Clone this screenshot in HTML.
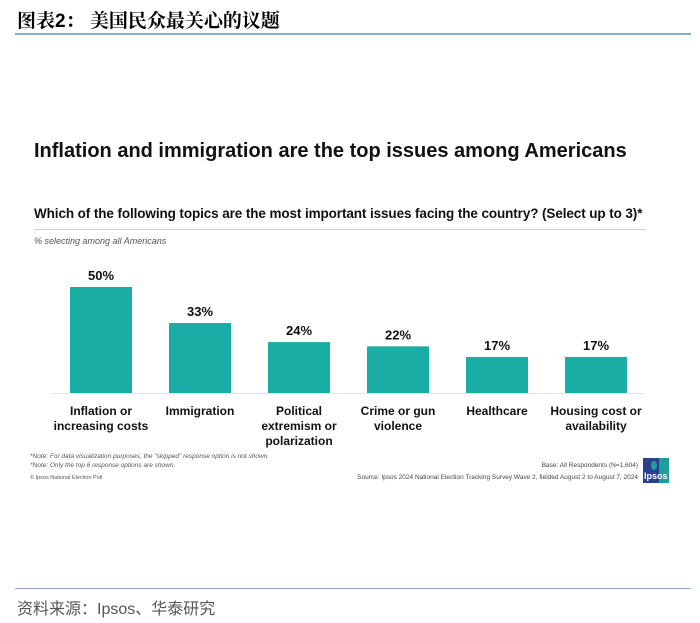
<!DOCTYPE html>
<html><head><meta charset="utf-8"><style>
body{margin:0;width:700px;height:623px;background:#fff;position:relative;overflow:hidden;font-family:"Liberation Sans","Noto Sans CJK SC",sans-serif}
.a{position:absolute;white-space:nowrap}
</style></head><body>
<div class="a" style="left:17px;top:6px;font-size:19px;font-weight:bold;font-family:'Liberation Sans','Noto Serif CJK SC',serif">图表2：&nbsp;美国民众最关心的议题</div>
<div class="a" style="left:15px;top:33px;width:676px;height:2px;background:#8ea9c8"></div>
<div class="a" style="left:34px;top:140px;font-size:20px;font-weight:bold;color:#111">Inflation and immigration are the top issues among Americans</div>
<div class="a" style="left:34px;top:206px;font-size:13.5px;font-weight:bold;color:#111;letter-spacing:-0.1px">Which of the following topics are the most important issues facing the country? (Select up to 3)*</div>
<div class="a" style="left:34px;top:229px;width:612px;height:1px;background:#ccc"></div>
<div class="a" style="left:34px;top:236px;font-size:9px;font-style:italic;color:#555">% selecting among all Americans</div>
<svg class="a" style="left:0;top:0" width="700" height="623" id="chart"></svg>
<div class="a" style="left:30px;top:453px;font-size:6.5px;font-style:italic;color:#555">*Note: For data visualization purposes, the "skipped" response option is not shown.</div>
<div class="a" style="left:30px;top:462px;font-size:6.5px;font-style:italic;color:#555">*Note: Only the top 6 response options are shown.</div>
<div class="a" style="left:30px;top:475px;font-size:5.5px;color:#555">© Ipsos National Election Poll</div>
<div class="a" style="right:62px;top:462px;font-size:6.5px;color:#444">Base: All Respondents (N=1,604)</div>
<div class="a" style="right:62px;top:474px;font-size:6.5px;color:#444">Source: Ipsos 2024 National Election Tracking Survey Wave 2, fielded August 2 to August 7, 2024</div>
<div class="a" style="left:643px;top:458px;width:26px;height:25px;background:#1e9e9a;overflow:hidden"><div style="position:absolute;left:0;top:0;width:16px;height:25px;background:#2a3f8f"></div><div style="position:absolute;left:8px;top:3px;width:6px;height:9px;border-radius:50%;background:#1e9e9a"></div><div style="position:absolute;left:1px;top:13px;font-size:9px;font-weight:bold;color:#fff">Ipsos</div></div>
<div class="a" style="left:15px;top:588px;width:676px;height:1px;background:#8ea9c8"></div>
<div class="a" style="left:17px;top:595px;font-size:16px;color:#555;font-family:'Liberation Sans','Noto Sans CJK SC',sans-serif">资料来源：Ipsos、华泰研究</div>
<script>
const categories=[["Inflation or","increasing costs"],["Immigration"],["Political","extremism or","polarization"],["Crime or gun","violence"],["Healthcare"],["Housing cost or","availability"]];
const values=[50,33,24,22,17,17];
const valueLabels=["50%","33%","24%","22%","17%","17%"];
const svg=document.getElementById('chart');const NS='http://www.w3.org/2000/svg';
const base=393,scale=2.12,x0=70,step=99,bw=62;
const yPos=v=>base-v*scale, xPos=i=>x0+i*step;
function mk(t,a){const e=document.createElementNS(NS,t);for(const k in a)e.setAttribute(k,a[k]);svg.appendChild(e);return e;}
const ln=mk('line',{x1:52,x2:645,y1:base+0.5,y2:base+0.5,stroke:'#e4e4e4','stroke-width':1});


values.forEach((v,i)=>{
 const r=mk('rect',{x:xPos(i),y:yPos(v),width:bw,height:v*scale,fill:'#1aada6'});
 
 
 const t=mk('text',{x:xPos(i)+bw/2,y:yPos(v)-7,'text-anchor':'middle','font-size':13,'font-weight':'bold',fill:'#111'});
 t.textContent=valueLabels[i];
 
 
 categories[i].forEach((s,j)=>{
  const c=mk('text',{x:xPos(i)+bw/2,y:base+22+j*15,'text-anchor':'middle','font-size':12,'font-weight':'bold',fill:'#111'});
  c.textContent=s;
  
  
 });
});
</script>
</body></html>
